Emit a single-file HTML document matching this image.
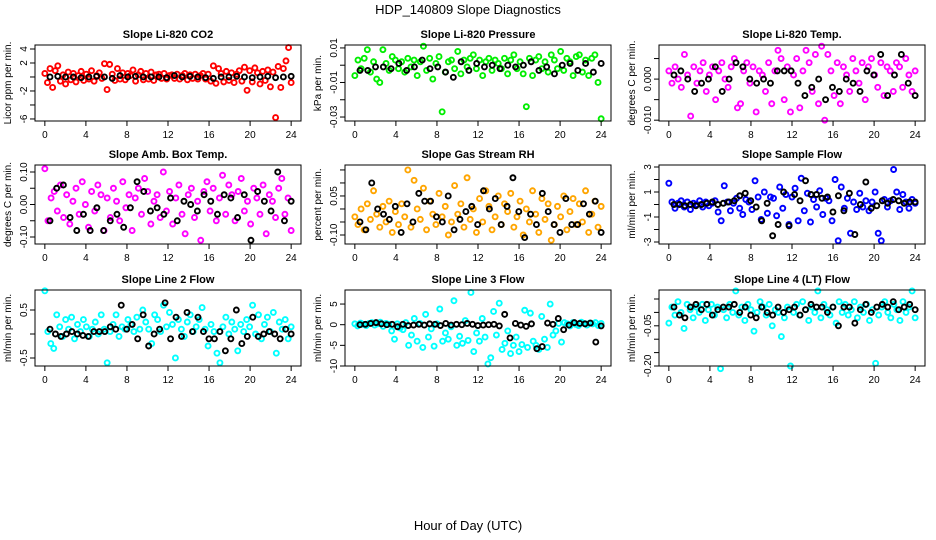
<!DOCTYPE html>
<html><head><meta charset="utf-8">
<style>
html,body{margin:0;padding:0;background:#fff;}
svg{display:block;font-family:"Liberation Sans",Arial,sans-serif;}
</style></head>
<body>
<svg id="chart" width="936" height="540" viewBox="0 0 936 540" xmlns="http://www.w3.org/2000/svg">
<text x="468" y="14" text-anchor="middle" font-size="13">HDP_140809  Slope Diagnostics</text>
<text x="468" y="530" text-anchor="middle" font-size="13">Hour of Day (UTC)</text>
</svg>
<script>
// ---- data arrays ----
const xTicks = [0,4,8,12,16,20,24];

const co2Color = [0.5,-0.8,1.2,-1.5,0.9,1.6,-0.6,0.3,-1.0,0.7,-0.4,0.5,-0.7,0.2,0.8,-0.5,0.4,-0.3,0.9,-0.6,0.2,0.6,-0.2,1.9,-1.8,1.8,0.4,-0.5,1.2,-0.3,0.6,-0.4,0.5,0.2,1.0,-0.6,0.3,0.8,-0.4,0.5,-0.3,0.7,-0.5,0.3,0.4,-0.2,0.5,-0.3,0.2,0.3,-0.2,0.4,-0.3,0.2,0.5,-0.4,0.3,-0.2,0.4,-0.3,0.2,0.5,-0.3,0.4,-0.6,1.6,-0.9,1.2,0.5,-0.7,0.8,-0.5,0.6,-0.8,0.4,0.9,-0.6,1.4,-1.9,0.9,-0.7,1.3,0.6,-1.0,0.8,-0.5,1.0,-1.4,0.7,-5.8,1.5,-1.5,1.2,2.3,4.2,-0.8];
const co2Black = [0,0.1,0,0,-0.1,0,0.1,0,-0.2,0.2,0,0.1,0,0,0,-0.1,0.2,0,0.1,0,-0.1,-0.2,0,0,0.1,0,-0.1,0,0.1,-0.1,0,0.1];

const presColor = [-0.006,0.003,-0.002,0.004,0.009,-0.004,0.002,-0.008,-0.010,0.009,0.001,-0.003,0.005,0.003,-0.002,0.002,-0.004,0.004,-0.001,0.003,-0.006,0.002,0.011,-0.003,0.004,-0.008,0.001,0.005,-0.027,-0.004,0.002,0.003,-0.002,0.008,-0.005,0.003,-0.001,0.004,0.006,-0.002,0.003,-0.006,0.002,0.004,-0.003,0.003,0.001,-0.002,0.004,-0.005,0.003,0.006,-0.002,0.002,-0.005,-0.024,0.004,-0.006,0.003,0.005,-0.002,0.002,-0.004,0.006,0.003,-0.002,0.008,-0.003,0.004,0.002,-0.006,0.005,0.006,-0.004,0.003,-0.006,0.004,0.006,-0.010,-0.031];
const presBlack = [-0.003,-0.003,-0.001,-0.001,-0.002,0.001,-0.003,-0.001,0.003,-0.002,-0.001,-0.004,-0.007,0.002,-0.003,0.001,-0.001,0.000,-0.002,0.000,-0.001,0.000,0.002,-0.003,-0.001,-0.005,0.000,0.001,-0.003,0.001,-0.004,0.001];

const tempColor = [0.002,-0.001,0.003,0.000,-0.002,0.006,0.001,-0.009,0.003,-0.001,0.002,0.004,-0.003,0.001,0.003,-0.005,0.002,0.004,0.000,-0.002,0.003,0.005,-0.007,-0.006,0.002,0.004,-0.001,0.003,-0.008,0.002,0.001,-0.003,0.004,-0.006,0.002,0.007,0.005,-0.005,0.003,-0.008,0.001,0.005,-0.007,0.002,0.007,0.004,-0.003,0.006,-0.006,0.008,-0.010,0.006,0.002,-0.004,0.004,-0.006,0.003,0.001,-0.003,0.005,0.002,-0.001,0.004,-0.005,0.003,0.005,0.001,-0.002,0.004,-0.004,0.003,0.002,-0.003,0.004,0.003,-0.002,0.005,0.001,-0.003,0.002];
const tempBlack = [0.001,0.002,0.000,-0.003,-0.001,0.000,0.003,-0.003,0.000,0.004,0.003,0.000,-0.001,0.000,-0.001,0.002,0.002,0.002,-0.001,-0.004,-0.002,0.000,-0.005,-0.002,-0.003,0.000,-0.001,-0.003,0.002,0.001,0.006,-0.004,0.001,0.006,-0.001,-0.004];

const ambColor = [0.11,-0.05,0.02,0.04,-0.02,0.06,-0.04,0.03,-0.06,0.01,0.05,-0.03,0.07,0.00,-0.07,0.04,-0.02,0.06,0.03,-0.08,0.02,-0.04,0.05,0.01,-0.05,0.07,-0.01,0.03,-0.08,0.02,0.05,-0.03,0.08,0.04,-0.06,0.01,0.03,-0.04,0.10,-0.02,0.04,-0.06,0.02,0.06,-0.03,-0.09,0.03,0.05,-0.04,0.01,-0.11,0.04,0.07,-0.02,0.05,-0.05,0.02,0.09,-0.03,0.06,0.03,-0.05,0.04,0.08,-0.02,0.01,-0.06,0.05,0.02,-0.03,0.06,-0.09,0.03,0.01,-0.04,0.05,0.08,-0.03,0.02,-0.08];
const ambBlack = [-0.05,0.05,0.06,-0.04,-0.08,-0.03,-0.08,-0.01,-0.08,-0.05,-0.03,-0.07,-0.01,0.07,0.04,-0.02,-0.01,-0.03,0.02,-0.05,0.01,0.00,-0.02,0.03,0.01,-0.03,0.03,0.02,-0.04,0.03,-0.11,0.04,0.01,-0.02,0.10,-0.05,0.01];

const rhColor = [-0.03,-0.06,0.00,-0.08,0.02,-0.04,0.07,-0.02,-0.07,0.01,-0.05,0.03,-0.09,-0.01,-0.06,0.02,-0.03,0.15,-0.07,0.11,0.00,-0.04,0.08,-0.08,0.03,-0.02,-0.06,0.06,-0.03,0.01,-0.10,-0.05,0.09,-0.02,0.02,-0.07,0.12,-0.04,0.00,-0.09,0.04,-0.05,0.07,0.01,-0.08,-0.03,0.05,-0.06,0.02,-0.01,0.06,-0.07,-0.03,0.03,-0.10,0.00,-0.05,0.07,-0.02,-0.09,0.04,-0.04,0.02,-0.12,-0.06,0.01,-0.03,0.05,-0.08,-0.01,0.04,-0.06,0.02,-0.05,0.07,-0.09,-0.02,0.03,-0.07,0.01];
const rhBlack = [-0.05,-0.08,0.10,0.00,-0.02,-0.04,0.01,-0.09,0.02,-0.05,0.06,0.03,0.03,-0.03,-0.05,0.05,-0.08,-0.04,-0.01,0.01,-0.06,0.07,0.00,0.04,-0.06,0.01,0.12,-0.01,-0.11,-0.02,-0.06,0.06,-0.01,-0.06,-0.09,0.04,-0.06,-0.06,0.02,-0.02,0.03,-0.09];

const sampleColor = [1.7,0.2,-0.3,0.1,0.3,-0.2,0.2,-0.4,0.1,0.0,0.3,-0.2,0.2,-0.1,0.1,0.3,-0.6,-1.3,1.5,0.2,-0.5,0.1,0.5,-0.3,-0.8,0.4,0.2,-0.4,1.9,0.6,-1.2,1.0,-0.7,0.6,0.5,-0.9,1.4,-0.3,0.8,-1.6,0.6,1.3,-1.3,2.1,-0.5,0.9,-1.4,0.4,-0.2,1.1,-0.8,0.5,0.3,-1.3,2.0,-2.9,1.4,-0.3,0.5,-2.3,0.2,-0.4,0.9,-0.2,0.3,-0.5,0.2,1.0,-2.3,-2.9,0.4,-0.2,0.3,2.8,1.0,-0.4,0.8,0.2,-0.3,0.4,0.1];
const sampleBlack = [0.0,0.0,-0.1,0.0,-0.1,0.0,0.1,0.2,0.0,0.1,0.2,0.3,0.7,0.9,0.3,-0.2,-1.3,0.1,-2.5,-1.6,1.0,-1.7,0.8,0.3,1.9,0.8,0.8,0.5,0.6,-0.6,0.7,-0.5,0.9,-2.4,0.0,1.8,-0.3,-0.1,0.3,0.1,0.4,0.3,0.1,0.2,0.2];

const line2Color = [0.90,0.05,-0.20,-0.30,0.40,0.15,-0.05,0.30,0.10,0.35,-0.10,0.20,0.05,0.30,0.15,-0.05,0.10,0.25,0.00,0.40,0.10,-0.60,0.05,0.20,0.40,-0.05,0.15,0.10,0.30,0.20,0.05,0.35,0.10,0.50,0.25,0.10,-0.20,0.40,0.30,0.05,0.60,0.15,0.45,0.20,-0.50,0.30,0.10,-0.05,0.25,0.40,0.05,0.15,0.30,0.55,0.10,-0.25,0.20,0.05,-0.40,-0.60,0.15,0.35,0.00,0.25,0.10,-0.35,0.20,0.05,0.30,0.15,0.60,0.00,0.40,-0.10,0.20,0.35,0.05,0.45,-0.40,0.25,0.10,0.30,-0.10,0.15];
const line2Black = [0.10,0.00,-0.05,0.00,0.05,0.00,-0.03,-0.05,0.05,0.05,0.05,0.15,0.10,0.60,0.10,0.20,-0.10,0.40,-0.25,0.00,0.10,0.65,-0.10,0.35,-0.05,0.45,0.05,0.35,0.05,-0.10,-0.10,0.05,-0.35,-0.10,0.50,-0.20,-0.05,0.35,-0.05,0.00,0.05,0.00,-0.10,0.10,0.00];

const line3Color = [0.2,-0.3,0.4,0.1,-0.2,0.3,0.5,-0.1,0.2,0.6,-0.4,0.3,0.1,-1.5,-3.5,0.2,-0.8,-1.2,0.5,-5.0,-2.5,1.5,-4.0,0.3,-5.5,2.5,-3.0,-1.0,-5.2,0.2,3.8,-4.0,-2.0,-3.5,-0.5,5.8,-5.0,-2.8,-4.5,1.0,-3.8,7.8,-6.5,-2.0,-4.0,1.5,-3.0,-9.5,-8.0,3.2,-2.5,5.2,-6.0,-4.5,-1.5,-7.0,-5.0,-3.0,-6.5,-4.8,3.5,-5.5,2.8,-4.0,-5.0,-6.0,2.0,-3.5,-5.5,5.0,-2.5,-1.5,0.3,-4.2,0.5,0.2,-0.3,0.5,0.1,-0.2,0.6,0.3,-0.1,0.4,0.2,0.5,-0.2,0.3];
const line3Black = [0,0.1,0.3,0.5,0.2,0,0.1,-0.5,0.1,-0.2,-0.1,0.1,-0.1,0.2,0.1,-0.2,0.3,-0.1,0.1,0,0.3,0.1,-0.2,-0.1,0,0.1,-0.3,2.5,-3.2,0.3,-0.1,-0.4,0.2,-5.8,-5.3,0.4,0.1,1.5,-1.2,-0.1,0.5,0.3,0.2,0.4,-4.2,-0.3];

const line4Color = [-0.04,0.02,-0.01,0.04,0.00,-0.06,0.03,0.01,-0.02,0.02,0.00,0.03,-0.03,0.01,0.03,-0.01,0.02,-0.21,0.01,-0.02,0.03,0.00,0.08,-0.01,0.02,-0.03,0.03,0.01,-0.07,0.00,0.04,0.02,-0.01,0.03,-0.05,0.01,0.00,-0.09,-0.02,0.02,-0.20,0.00,0.03,-0.01,0.04,0.01,-0.03,0.02,0.00,0.08,-0.02,0.03,0.01,-0.01,0.02,-0.04,0.04,0.00,0.03,-0.01,0.01,0.04,-0.02,0.02,0.00,0.03,-0.03,0.01,-0.19,-0.01,0.02,0.04,0.00,-0.02,0.03,0.01,-0.03,0.04,0.00,0.02,0.08,-0.02];
const line4Black = [0.02,-0.01,-0.02,0.02,0.03,0.01,0.03,-0.01,0.01,0.02,0.02,0.03,0.00,0.02,-0.01,-0.02,0.02,0.00,-0.01,0.02,0.00,0.01,0.02,-0.01,0.01,0.03,0.02,0.02,0.00,0.02,-0.05,0.02,0.02,-0.04,0.01,0.03,0.00,0.02,0.03,0.02,0.04,0.01,0.02,0.03,0.01];

// ---- panel layout ----
const NS = "http://www.w3.org/2000/svg";
const svg = document.getElementById('chart');
const colX = [35, 345, 659];
const rowY = [[45,121],[165,244],[290,366]];
const BOXW = 266;

const panels = [
 {name:'co2', title:'Slope Li-820 CO2', ylab:'Licor ppm per min.', col:0,row:0, ymin:-6.29,ymax:4.57, ticks:[-6,-4,-2,0,2,4], labels:{'4':'4','2':'2','-2':'-2','-6':'-6'}, color:'#ff0000', c:co2Color, b:co2Black},
 {name:'pressure', title:'Slope Li-820 Pressure', ylab:'kPa per min.', col:1,row:0, ymin:-0.0323,ymax:0.0117, ticks:[0.01,0,-0.01,-0.02,-0.03], labels:{'0.01':'0.01','-0.01':'-0.01','-0.03':'-0.03'}, color:'#00ee00', c:presColor, b:presBlack},
 {name:'temperature', title:'Slope Li-820 Temp.', ylab:'degrees C per min.', col:2,row:0, ymin:-0.0102,ymax:0.0083, ticks:[0.005,0,-0.005,-0.01], labels:{'0':'0.000','-0.01':'-0.010'}, color:'#ff00ff', c:tempColor, b:tempBlack},
 {name:'amb-box-temp', title:'Slope Amb. Box Temp.', ylab:'degrees C per min.', col:0,row:1, ymin:-0.1215,ymax:0.1215, ticks:[0.1,0.05,0,-0.05,-0.1], labels:{'0.1':'0.10','0':'0.00','-0.1':'-0.10'}, color:'#ff00ff', c:ambColor, b:ambBlack},
 {name:'gas-stream-rh', title:'Slope Gas Stream RH', ylab:'percent per min.', col:1,row:1, ymin:-0.1346,ymax:0.169, ticks:[0.15,0.1,0.05,0,-0.05,-0.1], labels:{'0.05':'0.05','-0.1':'-0.10'}, color:'#ffa500', c:rhColor, b:rhBlack},
 {name:'sample-flow', title:'Slope Sample Flow', ylab:'ml/min per min.', col:2,row:1, ymin:-3.16,ymax:3.16, ticks:[3,2,1,0,-1,-2,-3], labels:{'3':'3','1':'1','-1':'-1','-3':'-3'}, color:'#0000ff', c:sampleColor, b:sampleBlack},
 {name:'line2-flow', title:'Slope Line 2 Flow', ylab:'ml/min per min.', col:0,row:2, ymin:-0.667,ymax:0.917, ticks:[0.5,0,-0.5], labels:{'0.5':'0.5','-0.5':'-0.5'}, color:'#00ffff', c:line2Color, b:line2Black},
 {name:'line3-flow', title:'Slope Line 3 Flow', ylab:'ml/min per min.', col:1,row:2, ymin:-10,ymax:8.4, ticks:[5,0,-5,-10], labels:{'5':'5','0':'0','-5':'-5','-10':'-10'}, color:'#00ffff', c:line3Color, b:line3Black},
 {name:'line4-flow', title:'Slope Line 4 (LT) Flow', ylab:'ml/min per min.', col:2,row:2, ymin:-0.20,ymax:0.0836, ticks:[0.05,0,-0.05,-0.1,-0.15,-0.2], labels:{'-0.05':'-0.05','-0.2':'-0.20'}, color:'#00ffff', c:line4Color, b:line4Black}
];

function mk(tag, attrs, parent){
  const e = document.createElementNS(NS, tag);
  for (const k in attrs) e.setAttribute(k, attrs[k]);
  (parent||svg).appendChild(e);
  return e;
}

panels.forEach(p => {
  const x0 = colX[p.col], x1 = x0 + BOXW;
  const y0 = rowY[p.row][0], y1 = rowY[p.row][1];
  const xScale = h => x0 + (h + 0.96) / 25.92 * BOXW;
  const yScale = v => y1 - (v - p.ymin) / (p.ymax - p.ymin) * (y1 - y0);

  const g = mk('g', {});
  
  

  const t = mk('text', {x:(x0+x1)/2, y:y0-7, 'text-anchor':'middle', 'font-size':'11', 'font-weight':'bold'}, g);
  t.textContent = p.title;
  
  

  const yl = mk('text', {x:0, y:0, 'text-anchor':'middle', 'font-size':'10', transform:'translate('+(x0-24)+','+((y0+y1)/2)+') rotate(-90)'}, g);
  yl.textContent = p.ylab;
  
  

  const cg = mk('g', {fill:'none', stroke:p.color, 'stroke-width':'1.9'}, g);
  
  
  p.c.forEach((v,i) => {
    const h = i * 24 / (p.c.length - 1);
    const c = mk('circle', {cx:xScale(h), cy:yScale(v), r:2.5}, cg);
    
    
  });
  const bg = mk('g', {fill:'none', stroke:'#000', 'stroke-width':'1.9'}, g);
  
  
  p.b.forEach((v,i) => {
    const h = 0.5 + i * 23.5 / (p.b.length - 1);
    const c = mk('circle', {cx:xScale(h), cy:yScale(v), r:2.5}, bg);
    
    
  });

  const box = mk('rect', {x:x0, y:y0, width:BOXW, height:y1-y0, fill:'none', stroke:'#000', 'stroke-width':'1'}, g);
  
  

  const xa = mk('g', {}, g);
  
  
  xTicks.forEach(h => {
    const x = xScale(h);
    mk('line', {x1:x, x2:x, y1:y1, y2:y1+5, stroke:'#000'}, xa);
    const tl = mk('text', {x:x, y:y1+17, 'text-anchor':'middle', 'font-size':'10'}, xa);
    tl.textContent = h;
    
    
  });
  const ya = mk('g', {}, g);
  
  
  p.ticks.forEach(v => {
    const y = yScale(v);
    mk('line', {x1:x0-5, x2:x0, y1:y, y2:y, stroke:'#000'}, ya);
    const lab = p.labels[String(v)];
    if (lab !== undefined) {
      const tl = mk('text', {x:0, y:0, 'text-anchor':'middle', 'font-size':'10', transform:'translate('+(x0-8)+','+y+') rotate(-90)'}, ya);
      tl.textContent = lab;
      
      
    }
  });
});
</script>
</body></html>
